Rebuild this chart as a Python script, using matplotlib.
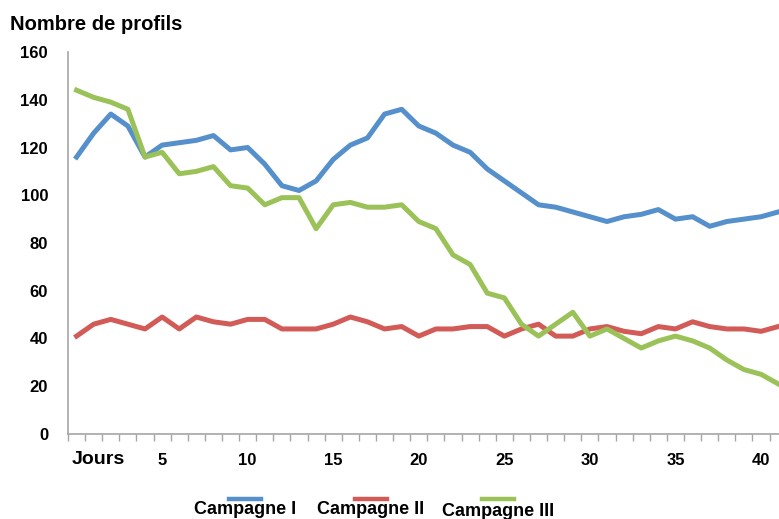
import matplotlib.pyplot as plt
from matplotlib.lines import Line2D
import numpy as np

plt.rcParams['font.family'] = ['Liberation Sans', 'DejaVu Sans']

#----------------------------------------------------------------------------------------#
# data

jours = np.arange(42)

campagne_1 = [116, 126, 134, 129, 116, 121, 122, 123, 125, 119, 120, 113, 104, 102,
              106, 115, 121, 124, 134, 136, 129, 126, 121, 118, 111, 106, 101, 96,
              95, 93, 91, 89, 91, 92, 94, 90, 91, 87, 89, 90, 91, 93]

campagne_2 = [41, 46, 48, 46, 44, 49, 44, 49, 47, 46, 48, 48, 44, 44,
              44, 46, 49, 47, 44, 45, 41, 44, 44, 45, 45, 41, 44, 46,
              41, 41, 44, 45, 43, 42, 45, 44, 47, 45, 44, 44, 43, 45]

campagne_3 = [144, 141, 139, 136, 116, 118, 109, 110, 112, 104, 103, 96, 99, 99,
              86, 96, 97, 95, 95, 96, 89, 86, 75, 71, 59, 57, 46, 41,
              46, 51, 41, 44, 40, 36, 39, 41, 39, 36, 31, 27, 25, 21]

series_names = ['Campagne I', 'Campagne II', 'Campagne III']
colors = ['#5590CC', '#D25B57', '#9BC259']

x_labels = [5, 10, 15, 20, 25, 30, 35, 40]
y_ticks = [0, 20, 40, 60, 80, 100, 120, 140, 160]

#----------------------------------------------------------------------------------------#

fig = plt.figure(figsize=(7.79, 5.19), dpi=100)
ax = fig.add_axes([68 / 779, 85 / 519, 711 / 779, 382 / 519])

for values, color in zip([campagne_1, campagne_2, campagne_3], colors):
    ax.plot(jours, values, color=color, linewidth=3.6, solid_joinstyle='round')

ax.set_xlim(-0.5, 41.05)
ax.set_ylim(0, 160)

ax.set_yticks(y_ticks)
ax.set_yticklabels([str(v) for v in y_ticks], fontsize=12, fontweight='bold')
ax.tick_params(axis='y', length=0, pad=14.4)

ax.set_xticks(x_labels)
ax.set_xticklabels([str(v) for v in x_labels], fontsize=12, fontweight='bold')
ax.set_xticks(np.arange(-0.5, 41, 1), minor=True)
ax.tick_params(axis='x', which='major', length=0, pad=14)
ax.tick_params(axis='x', which='minor', length=5, color='#A6A6A6', width=1)

for side in ['top', 'right']:
    ax.spines[side].set_visible(False)
for side in ['left', 'bottom']:
    ax.spines[side].set_color('#A6A6A6')
    ax.spines[side].set_linewidth(1.2)

fig.text(10 / 779, 1 - 24 / 519, 'Nombre de profils', fontsize=14.5, fontweight='bold',
         va='center', ha='left')
fig.text(98 / 779, 1 - 460 / 519, 'Jours', fontsize=14, fontweight='bold',
         va='center', ha='center')

#----------------------------------------------------------------------------------------#
# legend under the chart

legend_x = [245, 371, 498]
text_y = [510, 510, 512]
for name, color, lx, ty in zip(series_names, colors, legend_x, text_y):
    fig.add_artist(Line2D([(lx - 16) / 779, (lx + 16) / 779], [1 - 499 / 519, 1 - 499 / 519],
                          color=color, linewidth=3.2, transform=fig.transFigure))
    fig.text(lx / 779, 1 - ty / 519, name, fontsize=13, fontweight='bold',
             ha='center', va='center')

plt.savefig("out.png", dpi=100)
